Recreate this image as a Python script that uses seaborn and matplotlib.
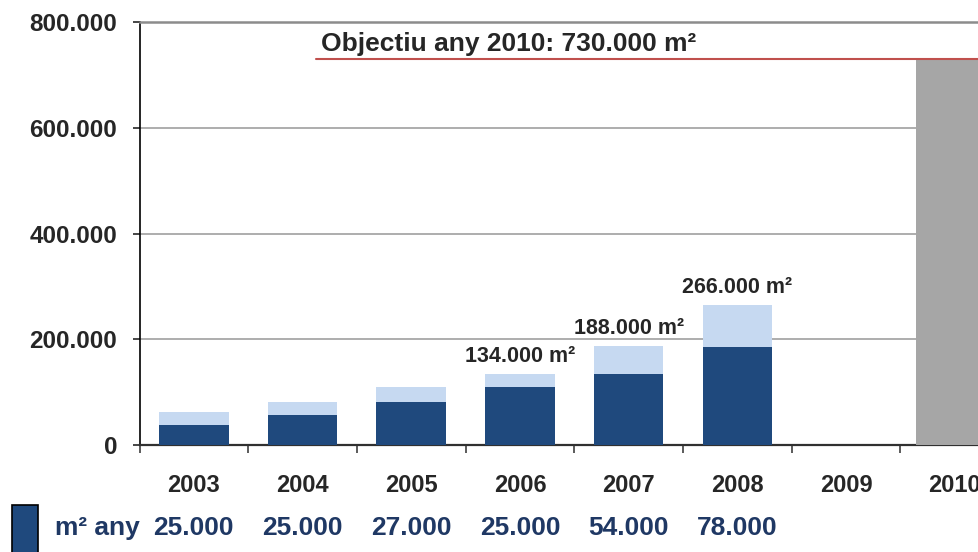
import pandas as pd
import matplotlib
matplotlib.use('Agg')
import matplotlib.pyplot as plt
import matplotlib.transforms as mtransforms
from matplotlib.patches import Rectangle
from matplotlib.ticker import FuncFormatter, FixedLocator
import seaborn as sns

# data
years = ['2003', '2004', '2005', '2006', '2007', '2008', '2009', '2010']
prev_total = [37000, 56000, 82000, 109000, 134000, 186000, None, None]
added = [25000, 25000, 27000, 25000, 54000, 78000, None, None]
total_labels = [None, None, None, '134.000 m²', '188.000 m²', '266.000 m²', None, None]
target_year = '2010'
target_value = 730000
added_labels = ['25.000', '25.000', '27.000', '25.000', '54.000', '78.000']

dark = '#1F497D'
light = '#C6D9F1'
grey = '#A6A6A6'
navy = '#1F3864'

sns.set_style('white')
plt.rcParams['font.family'] = ['Liberation Sans', 'DejaVu Sans']
plt.rcParams['font.weight'] = 'bold'

df = pd.DataFrame({'year': years, 'prev': prev_total, 'added': added})
df['total'] = df['prev'] + df['added']
goal = pd.DataFrame({'year': [target_year], 'value': [target_value]})

fig = plt.figure(figsize=(9.79, 5.52), dpi=100)
ax = fig.add_axes([0.1425, 0.1938, 0.8575 + 0.2, 0.7663])

sns.barplot(data=df, x='year', y='total', order=years, color=light, width=0.64,
            saturation=1, errorbar=None, ax=ax, linewidth=0, zorder=3)
sns.barplot(data=df, x='year', y='prev', order=years, color=dark, width=0.64,
            saturation=1, errorbar=None, ax=ax, linewidth=0, zorder=3)
sns.barplot(data=goal, x='year', y='value', order=years, color=grey, width=0.72,
            saturation=1, errorbar=None, ax=ax, linewidth=0, zorder=3)

ax.set_xlim(-0.5, 7.223 + 0.2 * 979 / 108.7)
ax.set_ylim(0, 800000)

# target line and label
ax.plot([1.12, 9], [target_value, target_value], color='#C0504D', lw=1.5, zorder=4)
ax.annotate('Objectiu any 2010: 730.000 m²', xy=(1.17, target_value), xytext=(0, 6),
            textcoords='offset points', ha='left', va='baseline', fontsize=19,
            fontweight='bold', zorder=5)

# totals above bars
for i, lab in enumerate(total_labels):
    if lab:
        ax.annotate(lab, xy=(i, df['total'][i]), xytext=(0, 5), textcoords='offset points',
                    ha='center', va='bottom', fontsize=15.5, fontweight='bold')

# axes styling
ax.yaxis.set_major_locator(FixedLocator([0, 200000, 400000, 600000, 800000]))
ax.yaxis.set_major_formatter(FuncFormatter(lambda v, p: f'{v:,.0f}'.replace(',', '.')))
ax.yaxis.grid(True, color='#A0A0A0', lw=1.2, zorder=0)
ax.set_axisbelow(True)
ax.tick_params(axis='y', left=True, length=5, width=1.2, direction='out', pad=11,
               labelsize=17.5)
ax.set_xticks(range(len(years)))
ax.set_xticklabels(years)
ax.set_xticks([i - 0.5 for i in range(9)], minor=True)
ax.tick_params(axis='x', which='major', length=0, pad=21, labelsize=17)
ax.tick_params(axis='x', which='minor', bottom=True, length=6, width=1.2, direction='out',
               color='#404040')
for t in ax.get_xticklabels() + ax.get_yticklabels():
    t.set_fontweight('bold')
ax.set_xlabel('')
ax.set_ylabel('')
ax.spines['left'].set_color('black')
ax.spines['left'].set_linewidth(1.2)
ax.spines['bottom'].set_color('#303030')
ax.spines['bottom'].set_linewidth(1.6)
ax.spines['top'].set_color('#8C8C8C')
ax.spines['top'].set_linewidth(1.8)
ax.spines['right'].set_visible(False)

# bottom legend row
fig.patches.append(Rectangle((12 / 979, -0.01), 26 / 979, 0.095, transform=fig.transFigure,
                             facecolor=dark, edgecolor='black', lw=1.2))
fig.text(55 / 979, 0.0435, 'm² any', color=navy, fontsize=19, fontweight='bold',
         va='center', ha='left')
trans = mtransforms.blended_transform_factory(ax.transData, fig.transFigure)
for i, lab in enumerate(added_labels):
    ax.text(i, 0.0435, lab, transform=trans, color=navy, fontsize=19, fontweight='bold',
            ha='center', va='center', clip_on=False)

fig.savefig('out.png', dpi=100)
